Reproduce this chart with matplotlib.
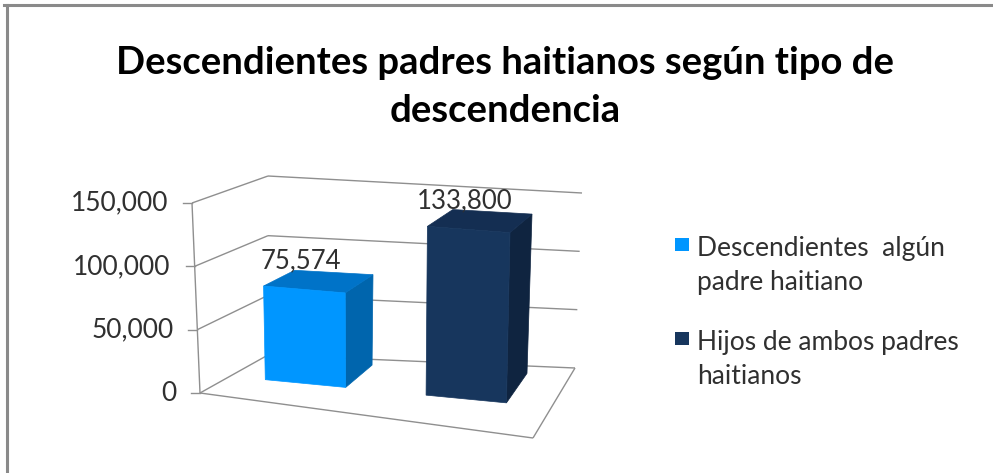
import numpy as np
import matplotlib.pyplot as plt
from matplotlib.patches import Polygon, Rectangle

plt.rcParams['font.family'] = ['Lato', 'DejaVu Sans']

# --- data ---
title = 'Descendientes padres haitianos según tipo de\ndescendencia'
series_names = ['Descendientes  algún\npadre haitiano',
                'Hijos de ambos padres\nhaitianos']
values = [75574, 133800]
value_labels = ['75,574', '133,800']
ticks = [0, 50000, 100000, 150000]
tick_labels = ['0', '50,000', '100,000', '150,000']

front_colors = ['#0096FF', '#17365D']
side_colors = ['#0065AD', '#0F2440']
top_colors = ['#0073C8', '#142E52']
grid_color = '#8f8f8f'
text_color = '#303030'

W, H = 993, 473
fig = plt.figure(figsize=(W / 100, H / 100), dpi=100)
ax = fig.add_axes([0, 0, 1, 1])
ax.set_xlim(0, W)
ax.set_ylim(H, 0)
ax.axis('off')

# screen corners of the 3D plot box (u = category axis, v = depth)
floor = {(0, 0): (200, 393), (1, 0): (533, 438), (0, 1): (268, 355), (1, 1): (575, 368)}
roof = {(0, 0): (192, 203), (1, 0): (537, 233), (0, 1): (268, 176), (1, 1): (582, 193)}
vmax = ticks[-1]


def bilin(c, u, v):
    return ((1 - u) * (1 - v) * np.array(c[(0, 0)]) + u * (1 - v) * np.array(c[(1, 0)])
            + (1 - u) * v * np.array(c[(0, 1)]) + u * v * np.array(c[(1, 1)]))


def proj(u, v, val):
    w = val / vmax
    b = bilin(floor, u, v)
    t = bilin(roof, u, v)
    return b + w * (t - b)


def seg(p, q, **kw):
    ax.plot([p[0], q[0]], [p[1], q[1]], color=grid_color, lw=1.0,
            solid_capstyle='butt', **kw)


# walls: gridlines on left and back walls
for t in ticks:
    seg(proj(0, 0, t), proj(0, 1, t))
    seg(proj(0, 1, t), proj(1, 1, t))
# floor outline
seg(proj(0, 0, 0), proj(1, 0, 0))
seg(proj(1, 0, 0), proj(1, 1, 0))
# value axis with ticks and labels
seg(proj(0, 0, 0), proj(0, 0, vmax))
for t, lab in zip(ticks, tick_labels):
    p = proj(0, 0, t)
    ax.plot([p[0] - 9, p[0]], [p[1], p[1]], color=grid_color, lw=1.0)
    ax.annotate(lab, p, xytext=(-24, 0), textcoords='offset pixels',
                ha='right', va='center', fontsize=19, color=text_color)

# bars
n = len(values)
half = 0.125
v0, v1 = 0.44, 0.89
for i, val in enumerate(values):
    uc = (i + 0.5) / n - 0.015
    u0, u1 = uc - half, uc + half
    front = [proj(u0, v0, 0), proj(u1, v0, 0), proj(u1, v0, val), proj(u0, v0, val)]
    side = [proj(u1, v0, 0), proj(u1, v1, 0), proj(u1, v1, val), proj(u1, v0, val)]
    top = [proj(u0, v0, val), proj(u1, v0, val), proj(u1, v1, val), proj(u0, v1, val)]
    ax.add_patch(Polygon(side, closed=True, fc=side_colors[i], ec=side_colors[i], lw=0.5, zorder=3))
    ax.add_patch(Polygon(top, closed=True, fc=top_colors[i], ec=top_colors[i], lw=0.5, zorder=3))
    ax.add_patch(Polygon(front, closed=True, fc=front_colors[i], ec=front_colors[i], lw=0.5, zorder=4))
    ax.annotate(value_labels[i], proj(uc, v0, val), xytext=(-4, 29),
                textcoords='offset pixels', ha='center', va='center',
                fontsize=18.5, color=text_color, zorder=5)

# legend
lx, ly, step = 675, 238, 94
for i, name in enumerate(series_names):
    y = ly + i * step
    ax.add_patch(Rectangle((lx, y), 14, 13, fc=front_colors[i], ec='none'))
    ax.text(lx + 22, y + 27, name, ha='left', va='center', fontsize=19,
            color=text_color, linespacing=1.45)

# title
fig.text(0.509, 1 - 87 / H, title, ha='center', va='center', fontsize=27.5,
         fontweight='bold', color='black', linespacing=1.5)

# frame border (top and left edges visible)
ax.plot([4, W], [5, 5], color='#8a8a8a', lw=2.2, clip_on=False)
ax.plot([7, 7], [5, H], color='#8a8a8a', lw=2.2, clip_on=False)

fig.savefig('out.png', dpi=100)
